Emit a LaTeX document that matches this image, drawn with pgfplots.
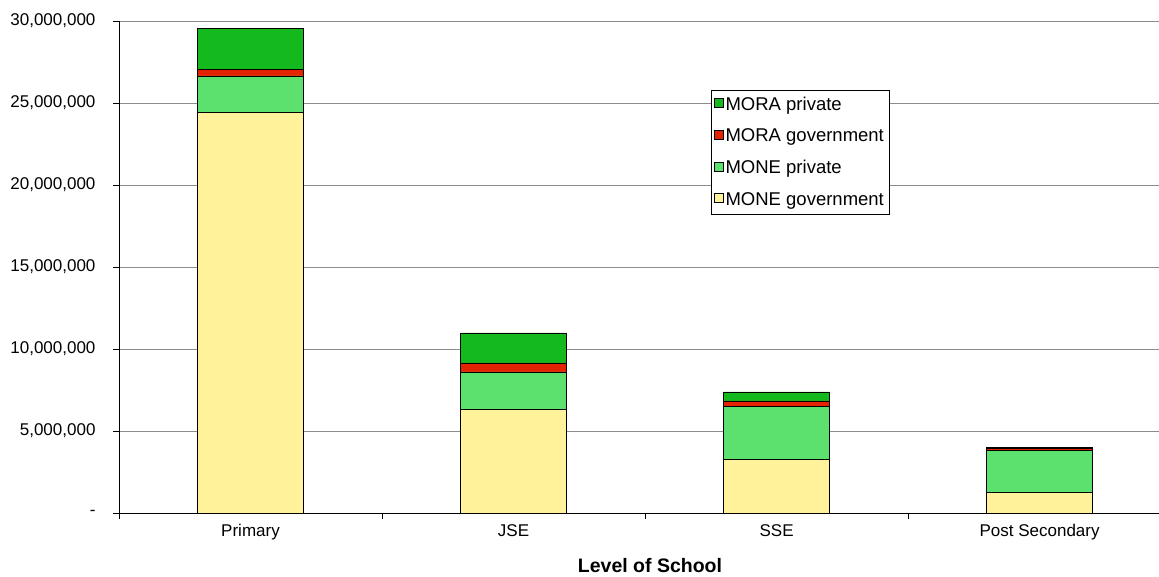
\documentclass[border=0pt]{standalone}
\usepackage{pgfplots}
\pgfplotsset{compat=1.18}
\usepackage{fontspec}
\setmainfont{Liberation Sans}
\definecolor{cDG}{RGB}{20,185,30}
\definecolor{cRD}{RGB}{230,35,0}
\definecolor{cLG}{RGB}{92,225,110}
\definecolor{cYL}{RGB}{255,242,155}
\begin{document}
\begin{tikzpicture}
\begin{axis}[
  at={(119pt,64pt)}, anchor=south west,
  scale only axis, width=1040pt, height=492pt,
  ybar stacked, bar width=0.403,
  xmin=-0.5, xmax=3.454, ymin=0, ymax=30000000,
  scaled y ticks=false,
  axis x line*=bottom, axis y line*=left,
  axis line style={black, line width=0.8pt},
  tick align=outside,
  xtick={0,1,2,3}, xticklabels={Primary,JSE,SSE,Post Secondary},
  major x tick style={draw=none},
  minor xtick={-0.5,0.5,1.5,2.5},
  minor tick length=6pt,
  minor x tick style={black, line width=0.8pt},
  ytick={0,5000000,10000000,15000000,20000000,25000000,30000000},
  yticklabels={-,{5,000,000},{10,000,000},{15,000,000},{20,000,000},{25,000,000},{30,000,000}},
  major tick length=6pt,
  y tick style={black, line width=0.8pt},
  ymajorgrids, grid style={gray!90, line width=0.8pt},
  tick label style={font=\fontsize{17}{19}\selectfont},
  yticklabel style={xshift=-14pt},
  xticklabel style={yshift=-2pt},
  xlabel={\textbf{Level of School}},
  xlabel style={font=\fontsize{19.5}{22}\selectfont, yshift=-11pt, xshift=11pt},
  reverse legend,
  legend style={at={(0.569,0.86)}, anchor=north west, draw=black, line width=0.6pt,
    font=\fontsize{18.5}{21}\selectfont, row sep=13pt, inner xsep=3pt, inner ysep=5pt},
  legend cell align=left,
  legend image code/.code={\draw[#1, line width=0.5pt] (1pt,-3pt) rectangle (10pt,6pt);},
  every axis plot/.append style={draw=black, line width=0.8pt},
]
\addplot[fill=cYL] coordinates {(0,24450000) (1,6340000) (2,3290000) (3,1280000)};
\addplot[fill=cLG] coordinates {(0,2200000) (1,2260000) (2,3230000) (3,2560000)};
\addplot[fill=cRD] coordinates {(0,370000) (1,550000) (2,310000) (3,120000)};
\addplot[fill=cDG] coordinates {(0,2500000) (1,1830000) (2,550000) (3,30000)};
\legend{MONE government,MONE private,MORA government,MORA private}
\end{axis}
\pgfresetboundingbox
\path (0,0) rectangle (1159pt,577pt);
\end{tikzpicture}
\end{document}
